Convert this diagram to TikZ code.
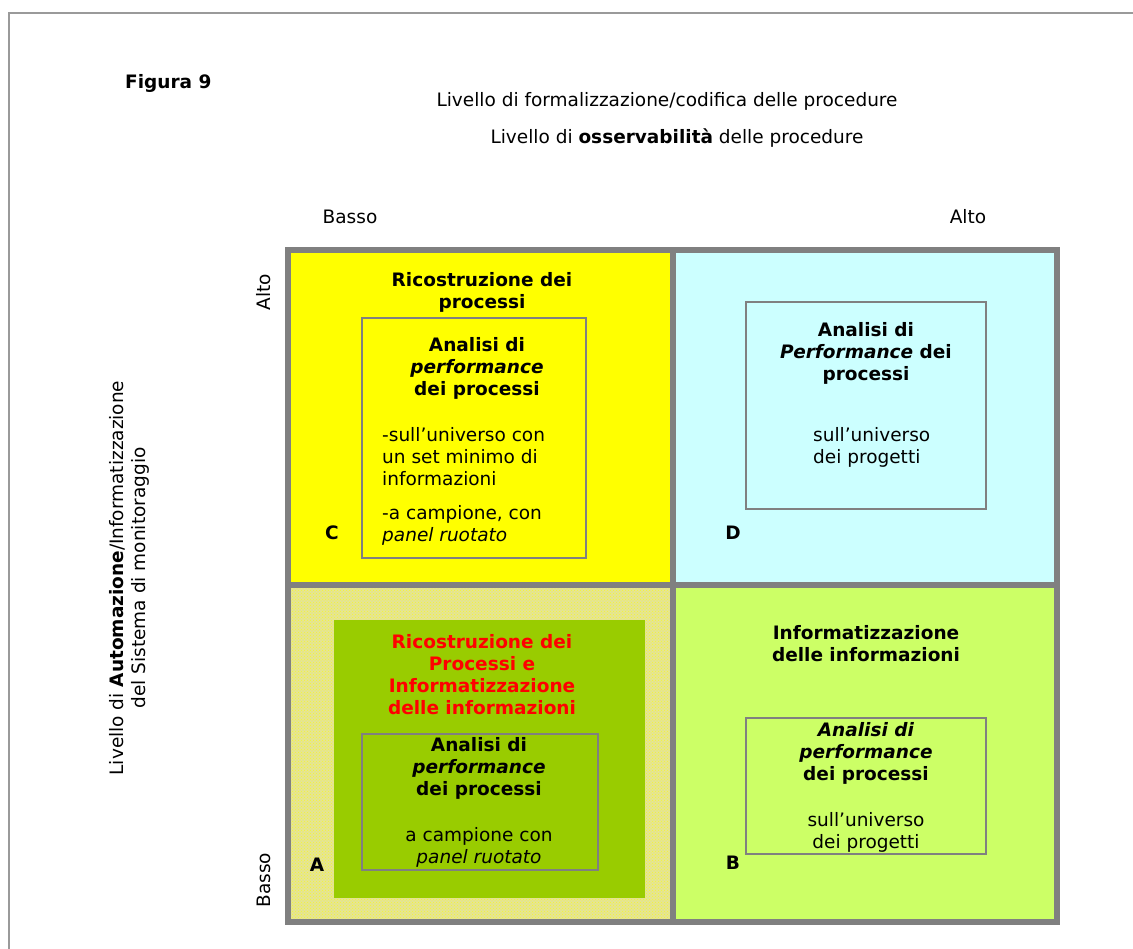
\documentclass[tikz,border=0pt]{standalone}
\usepackage{fontspec}
\setmainfont{DejaVu Sans}
\usepackage{tikz}
\usetikzlibrary{patterns}
\definecolor{gridgray}{RGB}{128,128,128}
\definecolor{quadC}{RGB}{255,255,0}
\definecolor{quadD}{RGB}{204,255,255}
\definecolor{quadB}{RGB}{204,255,102}
\definecolor{quadA}{RGB}{228,228,150}
\definecolor{darkgreen}{RGB}{153,204,0}
\definecolor{titlered}{RGB}{255,0,0}
\newcommand{\figfont}{\fontsize{18.5}{22}\selectfont}
\tikzset{
  txt/.style={inner sep=0pt, align=center},
  boldtxt/.style={txt, font=\figfont\bfseries},
  bodytxt/.style={inner sep=0pt, align=left, anchor=west},
  tag/.style={inner sep=0pt, font=\figfont\bfseries},
  grid/.style={draw=gridgray, line width=5.5pt},
  innerbox/.style={draw=gridgray, line width=1.5pt}
}
\begin{document}
\begin{tikzpicture}[x=1pt, y=-1pt, font=\figfont]
  \useasboundingbox (0,0) rectangle (1133,949);
  \draw[gridgray!80, line width=1.5pt] (9,949) -- (9,13) -- (1133,13);
  \node[boldtxt, anchor=west] (fig) at (125,83) {Figura 9};
  \node[txt] (formal) at (667,101) {Livello di formalizzazione/codifica delle procedure};
  \node[txt] (osserv) at (677,138) {Livello di \textbf{osservabilità} delle procedure};
  \node[txt] (lowx) at (350,217) {Basso};
  \node[txt] (highx) at (968,217) {Alto};
  \node[txt, rotate=90] (highy) at (264,292) {Alto};
  \node[txt, rotate=90] (lowy) at (264,880) {Basso};
  \node[txt, rotate=90] (automaz) at (129,578) {Livello di \textbf{Automazione}/Informatizzazione\\del Sistema di monitoraggio};

  \fill[quadC] (288,250) rectangle (673,585);
  \fill[quadD] (673,250) rectangle (1057,585);
  \fill[quadA] (288,585) rectangle (673,922);
  \fill[pattern=crosshatch dots, pattern color=quadC!70!quadA] (288,585) rectangle (673,922);
  \fill[quadB] (673,585) rectangle (1057,922);
  \draw[grid] (288,250) rectangle (1057,922);
  \draw[grid] (673,250) -- (673,922);
  \draw[grid] (288,585) -- (1057,585);

  % C
  \node[boldtxt] (titC) at (482,292) {Ricostruzione dei\\processi};
  \draw[innerbox] (362,318) rectangle (586,558);
  \node[boldtxt] (headC) at (477,368) {Analisi di\\\textit{performance}\\dei processi};
  \node[bodytxt] (bodyC) at (382,486) {-sull’universo con\\un set minimo di\\informazioni\\[12pt]-a campione, con\\\textit{panel ruotato}};
  \node[tag] (C) at (332,533) {C};

  % D
  \draw[innerbox] (746,302) rectangle (986,509);
  \node[boldtxt] (headD) at (866,353) {Analisi di\\\textit{Performance} dei\\processi};
  \node[bodytxt] (bodyD) at (813,447) {sull’universo\\dei progetti};
  \node[tag] (D) at (733,533) {D};

  % B
  \node[boldtxt] (titB) at (866,644) {Informatizzazione\\delle informazioni};
  \draw[innerbox] (746,718) rectangle (986,854);
  \node[boldtxt] (headB) at (866,753) {\textit{Analisi di}\\\textit{performance}\\dei processi};
  \node[txt] (bodyB) at (866,832) {sull’universo\\dei progetti};
  \node[tag] (B) at (733,863) {B};

  % A
  \fill[darkgreen] (334,620) rectangle (645,898);
  \node[boldtxt, text=titlered] (titA) at (482,675) {Ricostruzione dei\\Processi e\\Informatizzazione\\delle informazioni};
  \draw[innerbox] (362,734) rectangle (598,870);
  \node[boldtxt] (headA) at (479,768) {Analisi di\\\textit{performance}\\dei processi};
  \node[txt] (bodyA) at (479,847) {a campione con\\\textit{panel ruotato}};
  \node[tag] (A) at (317,865) {A};
\end{tikzpicture}
\end{document}
